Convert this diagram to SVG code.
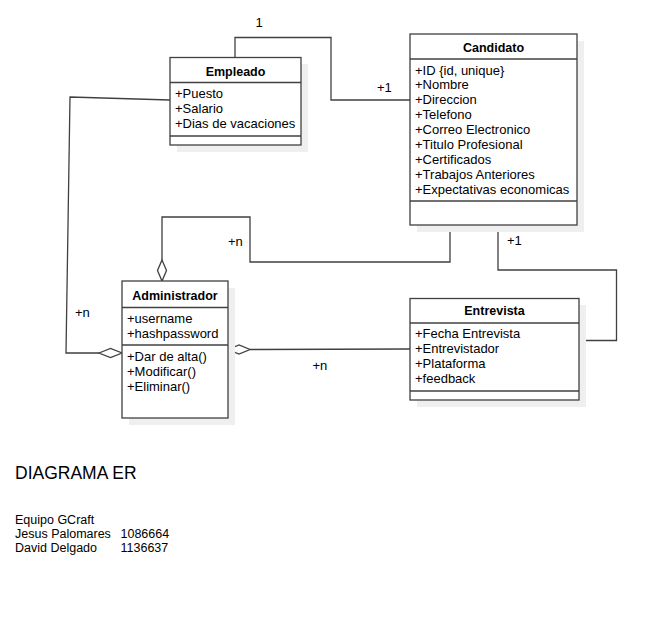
<svg xmlns="http://www.w3.org/2000/svg" width="657" height="634" viewBox="0 0 657 634">
<style>
text{font-family:"Liberation Sans",Arial,sans-serif;font-size:13px;fill:#000}
.t{font-weight:bold;font-size:12.5px;text-anchor:middle}
.nt{font-size:12.5px}
.box{fill:#fff;stroke:#404040;stroke-width:1.3}
.sh{fill:#efefef}
.sep{stroke:#404040;stroke-width:1.3}
.ln{fill:none;stroke:#404040;stroke-width:1.3}
.dm{fill:#fff;stroke:#404040;stroke-width:1.3}
</style>
<rect width="657" height="634" fill="#fff"/>
<g id="connectors">
<polyline class="ln" points="235,57 235,37.5 331,37.5 331,100 410,100"/>
<polyline class="ln" points="170,100 70,97 66,353 99,353"/>
<polyline class="ln" points="450,225 450,262 250,262 250,217 162,217 162,260"/>
<polyline class="ln" points="250,349.5 410,349"/>
<polyline class="ln" points="498,225 498,270 616.5,270 616.5,340.5 579,340.5"/>
<polygon class="dm" points="162,260 166.5,270.5 162,281 157.5,270.5"/>
<polygon class="dm" points="99,353 110.5,348.5 122,353 110.5,357.5"/>
<polygon class="dm" points="228,349.5 239,345 250,349.5 239,354"/>
<text x="259" y="27" text-anchor="middle">1</text>
<text x="377" y="92">+1</text>
<text x="228" y="245.5">+n</text>
<text x="75" y="317">+n</text>
<text x="312.5" y="369.5">+n</text>
<text x="507" y="245">+1</text>
</g>
<g id="empleado">
<rect class="sh" x="177" y="64" width="131" height="88"/>
<rect class="box" x="170" y="57.5" width="131" height="87.5"/>
<line class="sep" x1="170" y1="82.5" x2="301" y2="82.5"/>
<line class="sep" x1="170" y1="136" x2="301" y2="136"/>
<text class="t" x="235.5" y="75.5">Empleado</text>
<text x="175" y="97.5">+Puesto</text>
<text x="175" y="112.5">+Salario</text>
<text x="175" y="127.5">+Dias de vacaciones</text>
</g>
<g id="candidato">
<rect class="sh" x="417" y="41" width="167" height="191"/>
<rect class="box" x="410" y="34" width="167" height="191"/>
<line class="sep" x1="410" y1="59" x2="577" y2="59"/>
<line class="sep" x1="410" y1="201" x2="577" y2="201"/>
<text class="t" x="493.5" y="51.5">Candidato</text>
<text x="415" y="74.5">+ID {id, unique}</text>
<text x="415" y="89.4">+Nombre</text>
<text x="415" y="104.3">+Direccion</text>
<text x="415" y="119.2">+Telefono</text>
<text x="415" y="134.1">+Correo Electronico</text>
<text x="415" y="149">+Titulo Profesional</text>
<text x="415" y="163.9">+Certificados</text>
<text x="415" y="178.8">+Trabajos Anteriores</text>
<text x="415" y="193.7">+Expectativas economicas</text>
</g>
<g id="administrador">
<rect class="sh" x="129" y="288" width="106" height="137"/>
<rect class="box" x="122" y="281" width="106" height="137"/>
<line class="sep" x1="122" y1="307.5" x2="228" y2="307.5"/>
<line class="sep" x1="122" y1="345" x2="228" y2="345"/>
<text class="t" x="175" y="299.5">Administrador</text>
<text x="127" y="322.5">+username</text>
<text x="127" y="337.5">+hashpassword</text>
<text x="127" y="360.5">+Dar de alta()</text>
<text x="127" y="375.5">+Modificar()</text>
<text x="127" y="390.5">+Eliminar()</text>
</g>
<g id="entrevista">
<rect class="sh" x="417" y="305" width="169" height="102"/>
<rect class="box" x="410" y="298.5" width="169" height="101.5"/>
<line class="sep" x1="410" y1="323" x2="579" y2="323"/>
<line class="sep" x1="410" y1="391" x2="579" y2="391"/>
<text class="t" x="494.5" y="315">Entrevista</text>
<text x="415" y="338">+Fecha Entrevista</text>
<text x="415" y="352.5">+Entrevistador</text>
<text x="415" y="367.5">+Plataforma</text>
<text x="415" y="382.5">+feedback</text>
</g>
<g id="notes">
<text x="15" y="479.3" style="font-size:17.5px">DIAGRAMA ER</text>
<text class="nt" x="15" y="524">Equipo GCraft</text>
<text class="nt" x="15" y="538">Jesus Palomares</text>
<text class="nt" x="120.5" y="538">1086664</text>
<text class="nt" x="15" y="552">David Delgado</text>
<text class="nt" x="120.5" y="552">1136637</text>
</g>
</svg>
